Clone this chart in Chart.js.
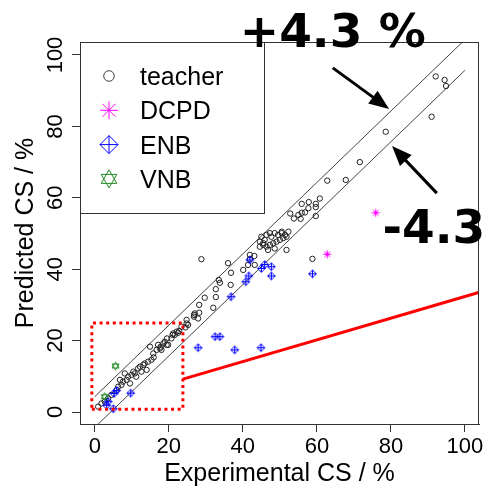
<!DOCTYPE html>
<html><head><meta charset="utf-8">
<script src="https://cdn.jsdelivr.net/npm/chart.js@4"></script>
<style>html,body{margin:0;padding:0;background:#fff}#wrap{width:485px;height:488px}</style>
</head><body><div id="wrap"><canvas id="c" width="485" height="488"></canvas></div>
<script>
// ---------- data ----------
const seriesNames = ['teacher', 'DCPD', 'ENB', 'VNB'];
const teacherX = [92.1,94.5,94.9,91.0,78.6,71.6,67.8,62.8,60.8,59.7,59.7,57.8,55.9,57.7,56.8,55.9,55.0,53.8,55.6,59.7,52.8,58.8,
  45.0,45.9,44.6,45.5,46.4,47.3,47.7,48.6,49.5,50.5,51.4,51.8,50.9,50.0,49.1,48.2,47.3,46.4,46.8,48.6,51.8,44.6,45.5,52.3,50.5,
  41.9,43.1,41.9,36.0,43.2,40.1,41.4,36.8,33.8,32.7,36.7,29.7,32.7,32.0,28.8,28.2,27.0,28.2,27.9,26.8,24.8,24.5,23.4,22.8,22.1,21.2,21.0,
  19.5,18.9,18.5,17.8,17.1,19.4,14.9,16.7,18.0,15.8,15.9,33.5,26.8,24.8,25.2,
  0.9,1.8,2.7,3.6,4.5,5.9,6.3,7.2,7.6,8.6,9.0,9.9,10.4,10.8,11.7,12.2,13.1,13.5,14.4,8.1,6.8,9.5,15.3,17.6,19.8,20.7,21.6,22.5,11.2,12.6,14.0];
const teacherY = [94.0,93.0,91.3,82.7,78.5,70.0,65.0,64.8,59.8,58.3,57.4,58.8,58.3,57.1,55.9,55.8,55.2,54.2,54.1,54.9,55.6,42.9,
  49.1,48.2,47.7,47.3,49.6,50.1,49.1,50.1,49.6,50.1,49.6,49.1,48.7,48.2,47.7,47.3,46.8,46.3,45.4,45.8,45.4,46.3,46.8,50.5,50.5,
  44.0,43.7,42.8,41.7,41.2,39.8,41.2,39.0,36.2,34.4,35.6,32.0,32.2,29.2,42.8,30.0,27.6,27.8,26.2,26.7,24.8,23.7,23.9,22.7,22.5,22.0,21.6,
  20.6,19.7,19.2,18.3,18.8,18.8,18.3,17.4,17.4,16.4,15.3,37.0,27.2,25.8,24.4,
  1.5,2.4,2.9,3.8,4.8,6.2,7.1,7.6,8.5,9.0,9.9,10.4,11.3,10.8,12.2,12.7,13.2,13.6,14.1,10.8,9.0,8.0,14.6,17.8,18.8,20.6,21.6,22.2,9.9,11.3,11.8];
const dcpdX = [75.9, 62.8];
const dcpdY = [55.8, 44.2];
const enbX = [58.8,47.7,47.7,45.0,45.9,41.9,41.6,40.8,36.8,32.5,33.8,27.9,37.8,44.9,9.7,5.9,5.2,5.0,3.2,3.6];
const enbY = [38.7,40.7,38.1,40.2,41.3,42.6,38.1,36.5,32.3,21.1,21.1,18.0,17.4,18.0,5.3,6.0,5.2,0.9,1.9,2.9];
const vnbX = [5.6, 2.7];
const vnbY = [12.9, 4.3];
const xTicks = [0, 20, 40, 60, 80, 100];
const yTicks = [0, 20, 40, 60, 80, 100];
const refLineX = [0, 100];
const upperLineY = [4.3, 104.3];
const lowerLineY = [-4.3, 95.7];
const zoomBoxX = [-0.8, 23.8, 23.8, -0.8, -0.8];
const zoomBoxY = [0.8, 0.8, 24.9, 24.9, 0.8];
const redLineX = [23.8, 110];
const redLineY = [9.2, 35.4];
const labelsText = ['+4.3 %', '-4.3'];
const labelsX = [64.3, 91.6];
const labelsY = [102.1, 47.3];
const arrowTailX = [64.3, 92.4], arrowTailY = [96.4, 61.3];
const arrowTipX = [79.5, 80.3], arrowTipY = [84.9, 74.5];

// ---------- helpers ----------
const pts = (xs, ys) => xs.map((x, i) => ({x, y: ys[i]}));
const FONT = "'Liberation Sans', Arial, sans-serif";
const COL = {teacher: '#111', DCPD: '#FF00FF', ENB: '#0000FF', VNB: '#228B22'};

function drawSym(ctx, kind, cx, cy, h, color) {
  ctx.save();
  ctx.strokeStyle = color; ctx.lineWidth = 1;
  ctx.beginPath();
  if (kind === 'circle') {
    ctx.arc(cx, cy, h, 0, Math.PI * 2);
  } else if (kind === 'star') {
    ctx.moveTo(cx - h, cy); ctx.lineTo(cx + h, cy);
    ctx.moveTo(cx, cy - h); ctx.lineTo(cx, cy + h);
    const d = h * 0.72;
    ctx.moveTo(cx - d, cy - d); ctx.lineTo(cx + d, cy + d);
    ctx.moveTo(cx - d, cy + d); ctx.lineTo(cx + d, cy - d);
  } else if (kind === 'diamondplus') {
    ctx.moveTo(cx, cy - h); ctx.lineTo(cx + h, cy); ctx.lineTo(cx, cy + h); ctx.lineTo(cx - h, cy); ctx.closePath();
    ctx.moveTo(cx - h, cy); ctx.lineTo(cx + h, cy);
    ctx.moveTo(cx, cy - h); ctx.lineTo(cx, cy + h);
  } else if (kind === 'davidstar') {
    const w = h * 0.87;
    ctx.moveTo(cx, cy - h); ctx.lineTo(cx + w, cy + h * 0.5); ctx.lineTo(cx - w, cy + h * 0.5); ctx.closePath();
    ctx.moveTo(cx, cy + h); ctx.lineTo(cx + w, cy - h * 0.5); ctx.lineTo(cx - w, cy - h * 0.5); ctx.closePath();
  }
  ctx.stroke();
  ctx.restore();
}
function symCanvas(kind, h, color) {
  const s = Math.ceil(h * 2 + 3);
  const c = document.createElement('canvas');
  c.width = s; c.height = s;
  drawSym(c.getContext('2d'), kind, s / 2, s / 2, h, color);
  return c;
}
const enbStyle = symCanvas('diamondplus', 3.8, COL.ENB);
const vnbStyle = symCanvas('davidstar', 4, COL.VNB);
const dcpdStyle = symCanvas('star', 4, COL.DCPD);

const decorPlugin = {
  id: 'decor',
  afterDraw(chart) {
    const {ctx, chartArea: a, scales: {x, y}} = chart;
    ctx.save();
    // plot box
    ctx.strokeStyle = '#333'; ctx.lineWidth = 1;
    ctx.strokeRect(Math.round(a.left) + 0.5, Math.round(a.top) + 0.5, Math.round(a.right - a.left) - 1, Math.round(a.bottom - a.top));
    // tick labels
    ctx.fillStyle = '#000';
    ctx.font = '22px ' + FONT;
    ctx.textAlign = 'center'; ctx.textBaseline = 'alphabetic';
    xTicks.forEach(v => ctx.fillText(String(v), x.getPixelForValue(v), 453));
    yTicks.forEach(v => {
      ctx.save(); ctx.translate(62, y.getPixelForValue(v)); ctx.rotate(-Math.PI / 2);
      ctx.fillText(String(v), 0, 0); ctx.restore();
    });
    // axis titles
    ctx.font = '25px ' + FONT;
    ctx.fillText('Experimental CS / %', (a.left + a.right) / 2, 481);
    ctx.save(); ctx.translate(33, (a.top + a.bottom) / 2); ctx.rotate(-Math.PI / 2);
    ctx.fillText('Predicted CS / %', 0, 0); ctx.restore();
    // legend
    const lx = Math.round(a.left) + 0.5, ly = Math.round(a.top) + 0.5;
    ctx.fillStyle = '#fff';
    ctx.fillRect(lx, ly, 184, 171);
    ctx.strokeStyle = '#333';
    ctx.strokeRect(lx, ly, 184, 171);
    const kinds = ['circle', 'star', 'diamondplus', 'davidstar'];
    const sizes = [5.3, 9, 9, 9];
    ctx.font = '25px ' + FONT; ctx.textAlign = 'left'; ctx.fillStyle = '#000';
    seriesNames.forEach((n, i) => {
      const cy = a.top + 34 + i * 34.3;
      drawSym(ctx, kinds[i], a.left + 29, cy, sizes[i], i === 0 ? '#444' : COL[n]);
      ctx.fillStyle = '#000';
      ctx.fillText(n, a.left + 60, cy + 9);
    });
    // arrows
    ctx.strokeStyle = '#000'; ctx.fillStyle = '#000'; ctx.lineWidth = 3;
    arrowTailX.forEach((tx, i) => {
      const x0 = x.getPixelForValue(tx), y0 = y.getPixelForValue(arrowTailY[i]);
      const x1 = x.getPixelForValue(arrowTipX[i]), y1 = y.getPixelForValue(arrowTipY[i]);
      const ang = Math.atan2(y1 - y0, x1 - x0);
      const L = 20, W = 8;
      const bx = x1 - L * Math.cos(ang), by = y1 - L * Math.sin(ang);
      ctx.beginPath(); ctx.moveTo(x0, y0); ctx.lineTo(bx + 3 * Math.cos(ang), by + 3 * Math.sin(ang)); ctx.stroke();
      ctx.beginPath();
      ctx.moveTo(x1, y1);
      ctx.lineTo(bx + W * Math.sin(ang), by - W * Math.cos(ang));
      ctx.lineTo(bx - W * Math.sin(ang), by + W * Math.cos(ang));
      ctx.closePath(); ctx.fill();
    });
    // big labels
    ctx.font = "bold 47px 'DejaVu Sans', Verdana, sans-serif";
    ctx.textAlign = 'center'; ctx.fillStyle = '#000';
    labelsText.forEach((t, i) => ctx.fillText(t, x.getPixelForValue(labelsX[i]), y.getPixelForValue(labelsY[i])));
    ctx.restore();
  }
};

new Chart(document.getElementById('c'), {
  type: 'scatter',
  data: {
    datasets: [
      {label: 'upper', type: 'line', data: pts(refLineX, upperLineY), borderColor: '#444', borderWidth: 1, pointRadius: 0, order: 10},
      {label: 'lower', type: 'line', data: pts(refLineX, lowerLineY), borderColor: '#444', borderWidth: 1, pointRadius: 0, order: 10},
      {label: seriesNames[0], data: pts(teacherX, teacherY), pointStyle: 'circle', pointRadius: 2.7, borderColor: '#222', backgroundColor: 'rgba(0,0,0,0)', borderWidth: 1, order: 5},
      {label: seriesNames[3], data: pts(vnbX, vnbY), pointStyle: vnbStyle, order: 4},
      {label: seriesNames[2], data: pts(enbX, enbY), pointStyle: enbStyle, order: 3},
      {label: seriesNames[1], data: pts(dcpdX, dcpdY), pointStyle: dcpdStyle, order: 2},
      {label: 'zoom', type: 'line', data: pts(zoomBoxX, zoomBoxY), borderColor: '#FF0000', borderWidth: 3, borderDash: [3, 3.6], pointRadius: 0, order: 1},
      {label: 'link', type: 'line', data: pts(redLineX, redLineY), borderColor: '#FF0000', borderWidth: 3, pointRadius: 0, order: 1}
    ]
  },
  options: {
    responsive: false, animation: false, devicePixelRatio: 1,
    layout: {padding: {top: 42, right: 6, left: 0, bottom: 0}},
    plugins: {legend: {display: false}, tooltip: {enabled: false}},
    scales: {
      x: {type: 'linear', min: -4, max: 103.8,
        afterFit: s => { s.height = 64; },
        ticks: {display: false, stepSize: 20, includeBounds: false},
        grid: {drawOnChartArea: false, drawTicks: true, tickLength: 8, color: '#333'},
        border: {display: true, color: '#333'}},
      y: {type: 'linear', min: -3.36, max: 103.64,
        afterFit: s => { s.width = 80; },
        ticks: {display: false, stepSize: 20, includeBounds: false},
        grid: {drawOnChartArea: false, drawTicks: true, tickLength: 8, color: '#333'},
        border: {display: true, color: '#333'}}
    }
  },
  plugins: [decorPlugin]
});
</script></body></html>
